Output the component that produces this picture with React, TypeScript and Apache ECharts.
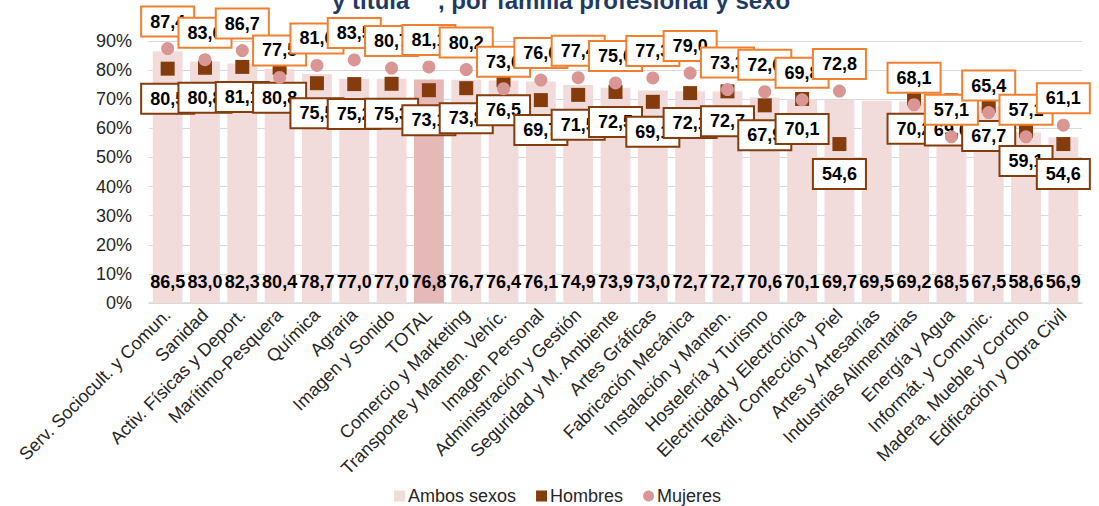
import React, { useEffect, useRef } from "react";
import * as echarts from "echarts";

const categories = [
  "Serv. Sociocult. y Comun.",
  "Sanidad",
  "Activ. Físicas y Deport.",
  "Marítimo-Pesquera",
  "Química",
  "Agraria",
  "Imagen y Sonido",
  "TOTAL",
  "Comercio y Marketing",
  "Transporte y Manten. Vehíc.",
  "Imagen Personal",
  "Administración y Gestión",
  "Seguridad y M. Ambiente",
  "Artes Gráficas",
  "Fabricación Mecánica",
  "Instalación y Manten.",
  "Hostelería y Turismo",
  "Electricidad y Electrónica",
  "Textil, Confección y Piel",
  "Artes y Artesanías",
  "Industrias Alimentarias",
  "Energía y Agua",
  "Informát. y Comunic.",
  "Madera, Mueble y Corcho",
  "Edificación y Obra Civil",
];

const ambosSexos = [
  86.5, 83.0, 82.3, 80.4, 78.7, 77.0, 77.0, 76.8, 76.7, 76.4, 76.1, 74.9, 73.9,
  73.0, 72.7, 72.7, 70.6, 70.1, 69.7, 69.5, 69.2, 68.5, 67.5, 58.6, 56.9,
];

const hombres: (number | null)[] = [
  80.5, 80.8, 81.1, 80.8, 75.5, 75.2, 75.3, 73.1, 73.8, 76.5, 69.7, 71.5, 72.5,
  69.1, 72.1, 72.7, 67.9, 70.1, 54.6, null, 70.2, 69.6, 67.7, 59.1, 54.6,
];

const mujeres: (number | null)[] = [
  87.4, 83.6, 86.7, 77.5, 81.6, 83.5, 80.7, 81.1, 80.2, 73.6, 76.6, 77.4, 75.6,
  77.3, 79.0, 73.3, 72.6, 69.8, 72.8, null, 68.1, 57.1, 65.4, 57.1, 61.1,
];

const yTicks = [0, 10, 20, 30, 40, 50, 60, 70, 80, 90];

const FONT = "'Liberation Sans', Arial, sans-serif";
const fmt = (v: number) => v.toFixed(1).replace(".", ",");

export default function App() {
  const ref = useRef<HTMLDivElement>(null);

  useEffect(() => {
    if (!ref.current) return;
    const chart = echarts.init(ref.current, undefined, { renderer: "svg" });

    const boxLabel = (border: string, dy: number) => ({
      show: true,
      position: "inside",
      offset: [0, dy],
      formatter: (p: any) => (p.value == null ? "" : fmt(Number(p.value))),
      fontFamily: FONT,
      fontSize: 18,
      fontWeight: "bold",
      color: "#000",
      lineHeight: 18,
      backgroundColor: "#fff",
      borderColor: border,
      borderWidth: 2,
      padding: [5, 8],
    });

    chart.setOption({
      animation: false,
      textStyle: { fontFamily: FONT },
      graphic: [
        {
          type: "text",
          x: 332,
          y: 0,
          style: {
            text: "y titula",
            font: `bold 24px ${FONT}`,
            fill: "#1F3B63",
            verticalAlign: "middle",
            align: "left",
          },
        },
        {
          type: "text",
          x: 438,
          y: 0,
          style: {
            text: ", por familia profesional y sexo",
            font: `bold 24px ${FONT}`,
            fill: "#1F3B63",
            verticalAlign: "middle",
            align: "left",
          },
        },
      ],
      grid: { left: 149, right: 17, top: 41, bottom: 203 },
      legend: {
        left: 389,
        top: 482,
        itemWidth: 11,
        itemHeight: 11,
        itemGap: 20,
        textStyle: { fontFamily: FONT, fontSize: 18, color: "#262626", padding: [0, 0, 0, -2] },
        data: [
          { name: "Ambos sexos", icon: "rect" },
          { name: "Hombres", icon: "rect" },
          { name: "Mujeres", icon: "circle" },
        ],
      },
      xAxis: {
        type: "category",
        data: categories,
        axisTick: { show: false },
        axisLine: { lineStyle: { color: "#D9D9D9", width: 1.5 } },
        axisLabel: {
          interval: 0,
          rotate: 45,
          fontFamily: FONT,
          fontSize: 18,
          color: "#262626",
          margin: 9,
        },
      },
      yAxis: {
        type: "value",
        min: yTicks[0],
        max: yTicks[yTicks.length - 1],
        interval: 10,
        axisLine: { show: false },
        axisTick: { show: false },
        splitLine: { lineStyle: { color: "#D9D9D9", width: 1 } },
        axisLabel: {
          formatter: "{value}%",
          fontFamily: FONT,
          fontSize: 18,
          color: "#262626",
          margin: 17,
        },
      },
      series: [
        {
          name: "Ambos sexos",
          type: "bar",
          barCategoryGap: "20%",
          itemStyle: { color: "#F2DCDB" },
          data: ambosSexos.map((v, i) =>
            categories[i] === "TOTAL"
              ? { value: v, itemStyle: { color: "#E6B9B8" } }
              : v
          ),
          label: {
            show: true,
            position: "insideBottom",
            distance: 12,
            formatter: (p: any) => fmt(Number(p.value)),
            fontFamily: FONT,
            fontSize: 18,
            fontWeight: "bold",
            color: "#000",
          },
          z: 1,
        },
        {
          name: "Hombres",
          type: "scatter",
          symbol: "rect",
          symbolSize: 14,
          itemStyle: { color: "#843C0C", opacity: 1 },
          data: hombres,
          label: boxLabel("#843C0C", 30),
          z: 3,
        },
        {
          name: "Mujeres",
          type: "scatter",
          symbol: "circle",
          symbolSize: 13,
          itemStyle: { color: "#D99694", opacity: 1 },
          data: mujeres,
          label: boxLabel("#F08030", -27),
          z: 4,
        },
      ],
    });

    return () => chart.dispose();
  }, []);

  return (
    <div
      ref={ref}
      style={{
        position: "fixed",
        left: 0,
        top: 0,
        width: 1099,
        height: 506,
        background: "#fff",
      }}
    />
  );
}
